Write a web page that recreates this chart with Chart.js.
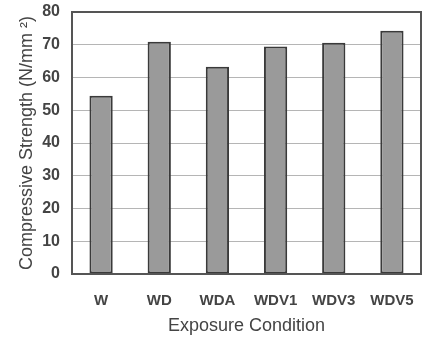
<!DOCTYPE html>
<html>
<head>
<meta charset="utf-8">
<script src="https://cdn.jsdelivr.net/npm/chart.js@4"></script>
<style>
html,body{margin:0;padding:0;background:#fff;}
#wrap{width:423px;height:337px;position:relative;}
</style>
</head>
<body>
<div id="wrap"><canvas id="c" width="423" height="337"></canvas></div>
<script>
const categories = ["W", "WD", "WDA", "WDV1", "WDV3", "WDV5"];
const strengthValues = [54.4, 70.9, 63.3, 69.5, 70.6, 74.3];
const yTicks = [0, 10, 20, 30, 40, 50, 60, 70, 80];

const boxPlugin = {
  id: 'box',
  afterDatasetsDraw(chart) {
    const a = chart.chartArea, ctx = chart.ctx;
    ctx.save();
    ctx.strokeStyle = '#555';
    ctx.lineWidth = 2;
    ctx.strokeRect(a.left, a.top, a.right - a.left, a.bottom - a.top);
    ctx.restore();
  }
};

new Chart(document.getElementById('c'), {
  type: 'bar',
  data: {
    labels: categories,
    datasets: [{
      data: strengthValues,
      backgroundColor: '#9a9a9a',
      borderColor: '#3a3a3a',
      borderWidth: 2,
      borderSkipped: false,
      categoryPercentage: 1.0,
      barPercentage: 0.4
    }]
  },
  options: {
    responsive: false,
    animation: false,
    devicePixelRatio: 1,
    layout: { padding: { top: 12, right: 2, left: 0, bottom: 0 } },
    plugins: { legend: { display: false }, tooltip: { enabled: false } },
    scales: {
      x: {
        grid: { display: false, drawTicks: false },
        border: { display: false },
        ticks: { color: '#444', font: { family: 'Liberation Sans, Arial', size: 15, weight: 'bold' }, padding: 18 },
        title: { display: true, text: 'Exposure Condition', color: '#444', font: { family: 'Liberation Sans, Arial', size: 18 }, padding: { top: 11, bottom: 0 } },
        afterFit(s) { s.height = 63; s.paddingLeft = 0; s.paddingRight = 0; }
      },
      y: {
        min: 0, max: 80,
        afterBuildTicks(s) { s.ticks = yTicks.map(v => ({ value: v })); },
        grid: { color: '#b5b5b5', lineWidth: 1, drawTicks: false },
        border: { display: false },
        ticks: { color: '#444', font: { family: 'Liberation Sans, Arial', size: 16, weight: 'bold' }, padding: 12 },
        title: { display: true, text: 'Compressive Strength (N/mm \u00B2)', color: '#444', font: { family: 'Liberation Sans, Arial', size: 18 }, padding: { top: 16, bottom: 2 } },
        afterFit(s) { s.width = 72; s.paddingTop = 0; s.paddingBottom = 0; }
      }
    }
  },
  plugins: [boxPlugin]
});
</script>
</body>
</html>
